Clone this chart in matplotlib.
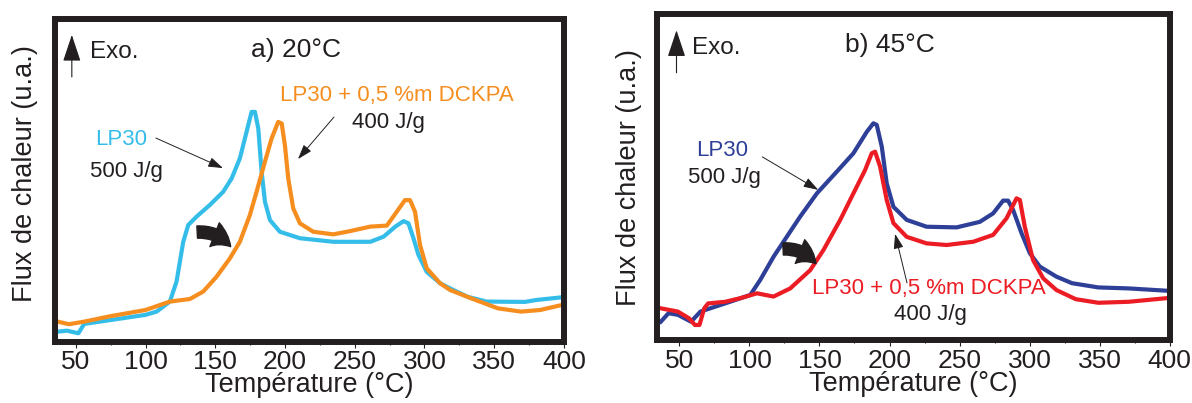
import matplotlib
matplotlib.use("Agg")
import matplotlib.pyplot as plt

plt.rcParams['font.family'] = ['Liberation Sans', 'DejaVu Sans']

INK = '#231f20'

# --- a) 20 C ---
t_a_lp30 = [37, 43.5, 51.8, 56, 75, 100, 107.9, 117.4, 122.2, 127, 130.6, 136.6, 146.1, 155.7,
            161.7, 167.6, 172.4, 176, 178.4, 180.8, 183.2, 185.6, 189.2, 196.3, 210.7, 234.6,
            261.2, 270.7, 279.1, 285, 288.5, 292.1, 295.7, 301.6, 311.1, 318.3, 330.8, 344.6,
            372, 380.3, 398]
v_a_lp30 = [3.2, 3.5, 2.7, 5.6, 6.8, 8.4, 9.4, 12.5, 18.7, 31, 36.2, 38.8, 42.4, 46.5,
            50.6, 56.8, 65, 71.2, 71.2, 66.1, 52.7, 43.4, 37.7, 34.1, 32.1, 31,
            31, 32.6, 35.7, 37.4, 36.7, 32.1, 26.9, 21.7, 18.2, 16.6, 14, 12.5,
            12.4, 13, 13.8]

t_a_dckpa = [37, 45, 56, 75, 100, 117.4, 131.8, 141.3, 150.9, 160.5, 167.6, 174.8, 179.6, 185.6,
             190.4, 195.1, 197.6, 199.9, 202.3, 205.9, 210.7, 220.3, 234.6, 246.6, 261.2, 273,
             280.1, 286, 289.6, 293.2, 296.8, 301.6, 311.1, 318.3, 333.5, 352.7, 369.2, 383, 398]
v_a_dckpa = [6.3, 5.5, 6.3, 8, 9.9, 12.5, 13.3, 15.6, 20.2, 25.9, 31, 39.3, 46.5, 55.8,
             63, 68.1, 67.6, 60.9, 50.6, 41.3, 36.7, 34.1, 33.3, 34.3, 35.7, 36,
             40.3, 43.9, 43.9, 40.3, 30, 22.8, 18.2, 16.1, 13.5, 10.4, 9.4, 9.9, 11.4]

# --- b) 45 C ---
t_b_lp30 = [36.7, 42.2, 48.9, 58.3, 65, 82.6, 100.6, 107.7, 117.2, 124.3, 136.2, 148.1, 162.4,
            174.2, 183.8, 188.5, 190.9, 194.5, 198, 202.8, 212.3, 226.5, 247.9, 264.5, 274,
            281.1, 284.7, 288.3, 294.3, 300.2, 307.3, 319.2, 330.3, 349.1, 370.7, 397.6]
v_b_lp30 = [5.7, 8.3, 7.8, 5.7, 8.8, 11.3, 13.9, 18.5, 25.6, 30.2, 37.9, 45, 51.7,
            57.3, 63.9, 66.5, 66, 59.3, 48.1, 40.9, 36.9, 34.8, 34.6, 36.3, 38.9,
            42.8, 42.8, 39.9, 32.8, 26.7, 22.6, 19.5, 17.5, 16.2, 15.9, 15.2]

t_b_dckpa = [36.7, 48.9, 57, 61, 64.3, 67.7, 70.5, 82.6, 93.5, 105.4, 117.2, 129.1, 143.4,
             152.9, 164.8, 174.2, 182.6, 187.3, 189.7, 193.3, 198, 202.8, 212.3, 226.5, 240.8,
             259.8, 274, 283.6, 290.7, 293.1, 296.6, 302.5, 309.7, 319.2, 333, 349.1, 370.7, 397.6]
v_b_dckpa = [9.8, 8.8, 6.7, 4.7, 4.7, 9.8, 11.3, 11.8, 12.9, 14.4, 13.4, 15.9, 21.5,
             27.7, 36.9, 45, 52.2, 57.3, 57.8, 53.2, 43, 35.9, 31.7, 29.7, 29.2,
             30.2, 32.3, 37.4, 43.5, 43, 34.8, 24.6, 19, 15.4, 12.6, 11.5, 11.8, 12.9]

x_ticks = [50, 100, 150, 200, 250, 300, 350, 400]

fig = plt.figure(figsize=(11.92, 4.03), dpi=100)
ax_a = fig.add_axes([0.0461, 0.1514, 0.427, 0.802])
ax_b = fig.add_axes([0.5512, 0.1556, 0.430, 0.8097])


def style_axes(ax, xlim, ylab_x, ylab_y):
    ax.set_xlim(*xlim)
    ax.set_ylim(0, 100)
    ax.set_yticks([])
    ax.set_xticks(x_ticks)
    ax.set_xticks(range(75, 400, 50), minor=True)
    ax.tick_params(axis='x', which='major', direction='out', length=4, width=0.8,
                   color=INK, labelsize=19, labelcolor=INK, pad=2)
    ax.tick_params(axis='x', which='minor', direction='out', length=2.5, width=0.8, color=INK)
    for s in ax.spines.values():
        s.set_linewidth(4.3)
        s.set_color(INK)
        s.set_zorder(5)
    ax.set_xlabel('Température (°C)', fontsize=19.5, color=INK, labelpad=-1.5)
    ax.set_ylabel('Flux de chaleur (u.a.)', fontsize=19.5, color=INK)
    ax.yaxis.set_label_coords(ylab_x, ylab_y)
    ax.yaxis.label.set_va('center')


def thin_arrow(ax, start, end):
    ax.annotate('', xy=end, xytext=start,
                arrowprops=dict(arrowstyle='-|>,head_length=0.45,head_width=0.15',
                                lw=0.7, color=INK, mutation_scale=20, shrinkA=0, shrinkB=0))


def big_arrow(ax, start, end):
    ax.annotate('', xy=end, xytext=start,
                arrowprops=dict(arrowstyle='simple,head_length=0.9,head_width=1.15,tail_width=0.55',
                                color=INK, mutation_scale=16, shrinkA=0, shrinkB=0,
                                connectionstyle='arc3,rad=-0.25'))


def exo(ax, x_arrow, x_text):
    ax.annotate('', xy=(x_arrow, 95), xytext=(x_arrow, 82),
                arrowprops=dict(arrowstyle='-|>,head_length=0.6,head_width=0.2',
                                lw=0.8, color=INK, mutation_scale=28, shrinkA=0, shrinkB=0))
    ax.text(x_text, 89.7, 'Exo.', fontsize=17.5, color=INK, ha='left', va='center')


# panel a
ax_a.plot(t_a_lp30, v_a_lp30, color='#35bdea', lw=3, solid_joinstyle='round')
ax_a.plot(t_a_dckpa, v_a_dckpa, color='#f68e1f', lw=3, solid_joinstyle='round')
style_axes(ax_a, (35, 400), -0.059, 0.52)
exo(ax_a, 47.1, 60)
ax_a.text(207.8, 90.3, 'a) 20°C', fontsize=19, color=INK, ha='center', va='center')
ax_a.text(82.3, 62.5, 'LP30', fontsize=16, color='#35bdea', ha='center', va='center')
ax_a.text(86.6, 52.6, '500 J/g', fontsize=16, color=INK, ha='center', va='center')
thin_arrow(ax_a, (107.4, 63.1), (155.5, 53.8))
ax_a.text(280.3, 76.4, 'LP30 + 0,5 %m DCKPA', fontsize=16, color='#f68e1f', ha='center', va='center')
ax_a.text(273.8, 68, '400 J/g', fontsize=16, color=INK, ha='center', va='center')
thin_arrow(ax_a, (235.1, 69.6), (209.3, 56.6))
big_arrow(ax_a, (137, 34), (161, 29.5))

# panel b
ax_b.plot(t_b_lp30, v_b_lp30, color='#2e3f98', lw=3, solid_joinstyle='round')
ax_b.plot(t_b_dckpa, v_b_dckpa, color='#ec1c24', lw=3, solid_joinstyle='round')
style_axes(ax_b, (34, 400), -0.054, 0.50)
exo(ax_b, 47.9, 59.3)
ax_b.text(200.4, 90.5, 'b) 45°C', fontsize=19, color=INK, ha='center', va='center')
ax_b.text(80.6, 58.3, 'LP30', fontsize=16, color='#2e3f98', ha='center', va='center')
ax_b.text(82.1, 50, '500 J/g', fontsize=16, color=INK, ha='center', va='center')
thin_arrow(ax_b, (109.2, 56.2), (149.1, 46.1))
ax_b.text(228.2, 16, 'LP30 + 0,5 %m DCKPA', fontsize=16, color='#ec1c24', ha='center', va='center')
ax_b.text(228.9, 7.8, '400 J/g', fontsize=16, color=INK, ha='center', va='center')
thin_arrow(ax_b, (212.5, 17.6), (204, 32.6))
big_arrow(ax_b, (124, 28), (147.5, 23.5))

fig.savefig('out.png', dpi=100)
plt.close(fig)
